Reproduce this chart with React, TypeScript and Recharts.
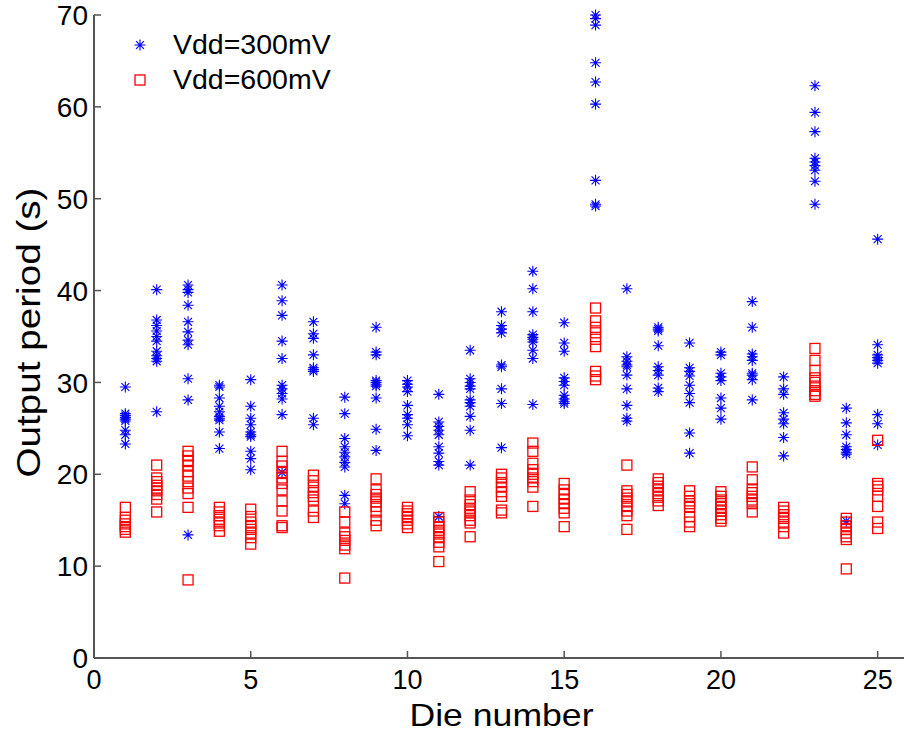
import React from 'react';
import { ScatterChart, Scatter, XAxis, YAxis, Legend } from 'recharts';

// die numbers on the x axis
const dies = [1, 2, 3, 4, 5, 6, 7, 8, 9, 10, 11, 12, 13, 14, 15, 16, 17, 18, 19, 20, 21, 22, 23, 24, 25];

// output period (s), one list per die, Vdd = 300 mV
const period300: number[][] = [
    [29.5, 26.6, 26.4, 26.2, 26.0, 25.8, 24.8, 24.3, 23.3],
    [40.1, 36.8, 36.2, 35.6, 35.0, 34.5, 33.4, 32.9, 32.6, 32.3, 26.8],
    [40.6, 40.1, 39.8, 38.4, 36.6, 35.5, 34.6, 34.1, 30.4, 28.1, 13.4],
    [29.7, 29.5, 28.3, 27.4, 26.8, 26.3, 26.1, 25.9, 24.6, 22.8],
    [30.3, 27.4, 26.1, 25.4, 24.6, 24.3, 24.1, 22.5, 21.7, 20.5],
    [40.6, 38.9, 37.3, 34.5, 32.6, 29.7, 29.3, 28.8, 28.2, 26.5, 20.2],
    [36.6, 35.3, 34.8, 33.0, 31.6, 31.4, 31.2, 26.1, 25.4],
    [28.4, 26.6, 23.9, 23.0, 22.4, 21.9, 21.3, 20.8, 17.7, 16.8],
    [36.0, 33.3, 33.0, 30.2, 30.0, 29.8, 29.6, 28.3, 24.9, 22.6],
    [30.2, 29.8, 29.5, 29.0, 27.5, 26.5, 26.1, 25.4, 24.2],
    [28.7, 25.7, 25.2, 24.8, 24.3, 23.0, 22.3, 21.4, 21.0, 15.4],
    [33.5, 30.4, 30.0, 29.6, 29.3, 28.1, 27.8, 27.4, 26.3, 24.8, 21.0],
    [37.7, 36.2, 35.8, 35.4, 31.9, 31.7, 29.3, 27.7, 22.9],
    [42.1, 40.2, 37.7, 35.2, 34.9, 34.7, 34.4, 33.5, 32.6, 27.6],
    [36.5, 34.3, 33.4, 30.5, 30.1, 29.7, 28.6, 28.2, 27.9, 27.7],
    [70.0, 69.6, 68.9, 64.8, 62.7, 60.3, 52.0, 49.4, 49.2],
    [40.2, 32.8, 32.3, 31.9, 31.7, 30.8, 29.3, 27.5, 26.1, 25.8],
    [36.0, 35.8, 35.6, 34.0, 31.7, 31.3, 30.8, 29.4, 29.0],
    [34.3, 31.6, 31.2, 30.7, 29.7, 28.8, 27.8, 24.5, 22.3],
    [33.3, 33.0, 31.0, 30.6, 30.2, 28.3, 27.2, 26.0],
    [38.8, 36.0, 33.1, 32.8, 32.4, 31.0, 30.8, 30.3, 28.1],
    [30.6, 29.3, 28.7, 26.7, 26.0, 25.5, 24.0, 22.0],
    [62.3, 59.4, 57.3, 54.4, 54.0, 53.6, 53.1, 51.9, 49.4],
    [27.2, 25.6, 24.3, 23.0, 22.7, 22.4, 22.2, 14.9],
    [45.6, 34.1, 33.0, 32.7, 32.4, 32.1, 26.5, 25.5, 23.2],
];

// output period (s), one list per die, Vdd = 600 mV
const period600: number[][] = [
    [16.4, 15.3, 15.0, 14.6, 14.3, 14.0, 13.7],
    [21.0, 19.6, 19.2, 18.8, 18.5, 18.2, 17.8, 17.3, 15.9],
    [22.5, 22.0, 21.5, 21.0, 20.3, 19.8, 19.2, 18.5, 17.9, 16.4, 8.5],
    [16.4, 15.9, 15.5, 15.1, 14.7, 14.4, 13.8],
    [16.2, 15.4, 14.8, 14.4, 14.0, 13.6, 13.1, 12.4],
    [22.5, 21.4, 20.9, 20.2, 19.6, 19.0, 18.3, 17.1, 16.0, 14.4, 14.2],
    [19.9, 19.3, 18.6, 18.0, 17.6, 17.2, 16.0, 15.3],
    [15.9, 14.8, 13.6, 13.2, 12.8, 12.3, 11.9, 8.7],
    [19.5, 18.3, 17.8, 17.4, 17.0, 16.5, 15.9, 15.0, 14.4],
    [16.4, 16.0, 15.7, 15.4, 15.0, 14.6, 14.2],
    [15.3, 14.8, 14.3, 13.9, 13.5, 13.1, 12.6, 12.1, 10.5],
    [18.1, 17.2, 16.7, 16.3, 15.9, 15.5, 15.0, 14.7, 13.2],
    [20.0, 19.6, 19.1, 18.6, 18.1, 17.6, 16.1, 15.8],
    [23.4, 22.5, 21.2, 20.5, 20.0, 19.6, 19.2, 18.6, 16.5],
    [19.0, 18.3, 17.8, 17.3, 16.8, 16.3, 15.8, 14.3],
    [38.1, 36.7, 36.0, 35.4, 34.7, 33.9, 31.2, 30.7, 30.3],
    [21.0, 18.2, 17.8, 17.4, 17.0, 16.5, 16.0, 15.5, 14.0],
    [19.5, 19.1, 18.7, 18.3, 17.9, 17.5, 17.1, 16.6],
    [18.2, 17.6, 17.1, 16.8, 16.4, 15.4, 14.8, 14.3],
    [18.1, 17.6, 17.2, 16.8, 16.4, 16.0, 15.6, 15.2, 14.9],
    [20.8, 19.4, 18.4, 18.0, 17.6, 17.2, 16.8, 15.9],
    [16.4, 16.0, 15.6, 15.2, 14.8, 14.3, 13.6],
    [33.7, 32.4, 31.3, 30.5, 30.0, 29.6, 29.1, 28.7, 28.5],
    [15.2, 14.8, 14.4, 14.0, 13.6, 13.2, 12.9, 9.7],
    [23.7, 19.0, 18.7, 18.3, 17.6, 16.5, 14.8, 14.1],
];

const xTicks = [0, 5, 10, 15, 20, 25];
const yTicks = [0, 10, 20, 30, 40, 50, 60, 70];

const FONT = '"Liberation Sans", Arial, Helvetica, sans-serif';
const BLUE = '#0000ff';
const RED = '#ff0000';
const AXIS = '#555';

const toPoints = (series: number[][]) =>
    dies.flatMap((die, i) => series[i].map(v => ({ x: die, y: v })));

const points300 = toPoints(period300);
const points600 = toPoints(period600);

const Star = ({ cx, cy, r = 5.5 }: any) => {
    const d = r * 0.72;
    return (
        <path
            d={`M${cx},${cy - r}L${cx},${cy + r}M${cx - r},${cy}L${cx + r},${cy}` +
               `M${cx - d},${cy - d}L${cx + d},${cy + d}M${cx - d},${cy + d}L${cx + d},${cy - d}`}
            stroke={BLUE}
            strokeWidth={1.1}
            fill="none"
        />
    );
};

const Square = ({ cx, cy, s = 10 }: any) => (
    <rect x={cx - s / 2} y={cy - s / 2} width={s} height={s} stroke={RED} strokeWidth={1.3} fill="none" />
);

// MATLAB style ticks: marks point into the plot
const YTick = ({ x, y, payload }: any) => (
    <g>
        <line x1={x + 6} x2={x + 13} y1={y} y2={y} stroke={AXIS} strokeWidth={1.5} />
        <text x={x} y={y} dy="0.36em" textAnchor="end" fontSize={28} fontFamily={FONT} fill="#000">
            {payload.value}
        </text>
    </g>
);

const XTick = ({ x, y, payload }: any) => (
    <g>
        <line x1={x} x2={x} y1={y - 12} y2={y - 19} stroke={AXIS} strokeWidth={1.5} />
        <text x={x} y={y} dy="0.72em" textAnchor="middle" fontSize={27} fontFamily={FONT} fill="#000">
            {payload.value}
        </text>
    </g>
);

const XLabel = ({ viewBox }: any) => (
    <text
        x={viewBox.x + viewBox.width / 2}
        y={726}
        textAnchor="middle"
        fontSize={32}
        fontFamily={FONT}
        textLength={184}
        lengthAdjust="spacingAndGlyphs"
        fill="#000"
    >
        Die number
    </text>
);

const YLabel = ({ viewBox }: any) => {
    const cx = 40;
    const cy = viewBox.y + viewBox.height / 2 - 4;
    return (
        <text
            x={cx}
            y={cy}
            transform={`rotate(-90, ${cx}, ${cy})`}
            textAnchor="middle"
            fontSize={33}
            fontFamily={FONT}
            textLength={290}
            lengthAdjust="spacingAndGlyphs"
            fill="#000"
        >
            Output period (s)
        </text>
    );
};

const renderLegend = ({ payload }: any) => (
    <div style={{ fontFamily: FONT, fontSize: 28.5, color: '#000' }}>
        {(payload || []).map((entry: any) => (
            <div key={entry.value} style={{ display: 'flex', alignItems: 'center', height: 35 }}>
                <svg width={24} height={24}>
                    {entry.value === 'Vdd=300mV' ? <Star cx={12} cy={12} /> : <Square cx={12} cy={12} />}
                </svg>
                <span style={{ marginLeft: 21, whiteSpace: 'nowrap' }}>{entry.value}</span>
            </div>
        ))}
    </div>
);

export default function App() {
    return (
        <div style={{ position: 'absolute', left: 0, top: 0, width: 904, height: 733, overflow: 'hidden', background: '#fff' }}>
            <ScatterChart width={909} height={733} margin={{ top: 15, right: 0, bottom: 0, left: 0 }}>
                <XAxis
                    type="number"
                    dataKey="x"
                    domain={[0, 26]}
                    ticks={xTicks}
                    allowDataOverflow
                    height={75}
                    tickSize={0}
                    tickMargin={12}
                    tick={<XTick />}
                    stroke={AXIS}
                    axisLine={{ stroke: AXIS, strokeWidth: 2 }}
                    label={<XLabel />}
                />
                <YAxis
                    type="number"
                    dataKey="y"
                    domain={[0, 70]}
                    ticks={yTicks}
                    width={94}
                    tickSize={0}
                    tickMargin={6}
                    tick={<YTick />}
                    axisLine={{ stroke: AXIS, strokeWidth: 2 }}
                    label={<YLabel />}
                />
                <Legend
                    layout="horizontal"
                    verticalAlign="middle"
                    align="center"
                    wrapperStyle={{ top: 27, left: 128, width: 260 }}
                    content={renderLegend}
                />
                <Scatter name="Vdd=300mV" data={points300} fill={BLUE} shape={<Star />} isAnimationActive={false} />
                <Scatter name="Vdd=600mV" data={points600} fill={RED} shape={<Square />} isAnimationActive={false} />
            </ScatterChart>
        </div>
    );
}
